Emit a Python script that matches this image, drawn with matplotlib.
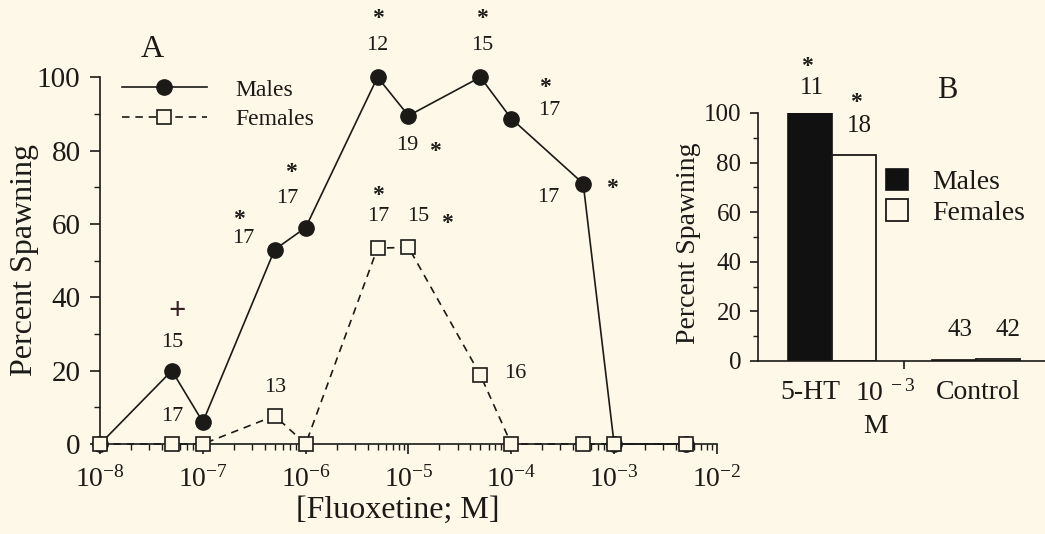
import matplotlib.pyplot as plt
import numpy as np
from matplotlib.ticker import LogLocator, NullFormatter, FixedLocator

plt.rcParams['font.family'] = 'Liberation Serif'
plt.rcParams['mathtext.fontset'] = 'custom'
plt.rcParams['mathtext.rm'] = 'Liberation Serif'
plt.rcParams['mathtext.it'] = 'Liberation Serif:italic'
plt.rcParams['mathtext.bf'] = 'Liberation Serif:bold'

ink = '#1c1a17'
bg = '#fdf8e8'

# panel A: spawning vs fluoxetine concentration
conc = [1e-8, 5e-8, 1e-7, 5e-7, 1e-6, 5e-6, 1e-5, 5e-5, 1e-4, 5e-4, 1e-3, 5e-3]
males = [0, 20, 6, 53, 59, 100, 89.5, 100, 88.7, 71, 0, 0]
females = [0, 0, 0, 7.7, 0, 53.4, 53.6, 18.8, 0, 0, 0, 0]
decades = [1e-8, 1e-7, 1e-6, 1e-5, 1e-4, 1e-3, 1e-2]
decade_labels = ['$10^{-8}$', '$10^{-7}$', '$10^{-6}$', '$10^{-5}$',
                 '$10^{-4}$', '$10^{-3}$', '$10^{-2}$']

# sample sizes / significance marks (x, y, text)
notes_a = [
    (5e-8, 27.8, '15'), (5e-8, 7.4, '17'), (5e-7, 15.5, '13'),
    (2.46e-7, 55.9, '17'), (6.6e-7, 67, '17'),
    (5e-6, 108.7, '12'), (5.2e-5, 108.7, '15'), (9.7e-6, 81.5, '19'),
    (2.33e-4, 91, '17'), (2.28e-4, 67.3, '17'),
    (5.1e-6, 61.9, '17'), (1.24e-5, 62.1, '15'), (1.09e-4, 19.3, '16'),
]
stars_a = [(2.25e-7, 62.4), (7.2e-7, 75.2), (5e-6, 117.2), (5.2e-5, 117.2),
           (1.8e-5, 80.9), (2.13e-4, 98.4), (9.6e-4, 70.8), (5.1e-6, 68.9),
           (2.37e-5, 61.3)]
plus_a = (5.6e-8, 36.0)

# panel B: 5-HT vs control
group_x = [1.18, 4.45]
b_males = [100, 0.5]
b_females = [83, 0.8]
notes_b = [(1.23, 110, '11'), (2.30, 94.8, '18'), (4.59, 12.5, '43'), (5.68, 12.5, '42')]
stars_b = [(1.11, 120.6), (2.23, 106)]

fig = plt.figure(figsize=(10.45, 5.34), dpi=100)
fig.patch.set_facecolor(bg)

# ---- panel A ----
ax = fig.add_axes([0.0957, 0.1685, 0.5904, 0.687])
ax.set_facecolor('none')
ax.set_xscale('log')
ax.plot(conc, males, '-', color=ink, lw=1.2, marker='o', ms=11,
        mfc=ink, mec=ink, clip_on=False, zorder=3, label='Males')
ax.plot(conc, females, '--', color=ink, lw=1.2, dashes=(4.5, 3.5), marker='s',
        ms=10.5, mfc=bg, mec=ink, mew=1.2, clip_on=False, zorder=4, label='Females')
ax.set_xlim(1e-8, 1e-2)
ax.set_ylim(0, 100)
ax.spines['top'].set_visible(False)
ax.spines['right'].set_visible(False)
for s in ('left', 'bottom'):
    ax.spines[s].set_color(ink)
    ax.spines[s].set_linewidth(1.2)
ax.set_xticks(decades)
ax.set_xticklabels(decade_labels, fontsize=20, color=ink)
ax.xaxis.set_minor_locator(LogLocator(base=10, subs=np.arange(2, 10), numticks=20))
ax.xaxis.set_minor_formatter(NullFormatter())
ax.set_yticks(range(0, 101, 20))
ax.set_yticklabels([str(v) for v in range(0, 101, 20)], fontsize=21, color=ink)
ax.yaxis.set_minor_locator(FixedLocator(range(10, 100, 20)))
ax.tick_params(which='major', direction='out', length=7, width=1.2, color=ink)
ax.tick_params(which='minor', direction='out', length=4, width=1.0, color=ink)
ax.tick_params(axis='y', pad=7)
ax.tick_params(axis='x', pad=9)

for x, y, t in notes_a:
    ax.text(x, y, t, fontsize=16, color=ink, ha='center', va='center', clip_on=False)
for x, y in stars_a:
    ax.annotate('*', (x, y), xytext=(0, -3), textcoords='offset points',
                fontsize=17, fontweight='bold', color=ink,
                ha='center', va='center', annotation_clip=False)
ax.text(plus_a[0], plus_a[1], '+', fontsize=22, fontweight='bold', color='#3a1f24',
        ha='center', va='center')
ax.text(3.2e-8, 107.6, 'A', fontsize=23, color=ink, ha='center', va='center', clip_on=False)

ax.legend(loc='upper left', bbox_to_anchor=(0.1167, 0.852), bbox_transform=fig.transFigure,
          frameon=False, fontsize=17, handlelength=3.6, handletextpad=1.2,
          borderpad=0, borderaxespad=0, labelspacing=0.35, labelcolor=ink)

fig.text(0.0239, 0.513, 'Percent Spawning', rotation=90, fontsize=23, color=ink,
         ha='center', va='center')
fig.text(0.381, 0.045, '[Fluoxetine; M]', fontsize=23, color=ink, ha='center', va='center')

# ---- panel B ----
bx = fig.add_axes([0.7254, 0.324, 0.2746, 0.4644])
bx.set_facecolor('none')
gx = np.array(group_x)
bx.bar(gx, b_males, width=1.0, color='#111111', edgecolor='#111111', lw=1.2, label='Males')
bx.bar(gx + 1.0, b_females, width=1.0, color=bg, edgecolor=ink, lw=1.3, label='Females')
bx.set_xlim(0, 6.52)
bx.set_ylim(0, 100)
bx.spines['top'].set_visible(False)
bx.spines['right'].set_visible(False)
for s in ('left', 'bottom'):
    bx.spines[s].set_color(ink)
    bx.spines[s].set_linewidth(1.2)
bx.set_xticks([3.32])
bx.set_xticklabels([''])
bx.set_yticks(range(0, 101, 20))
bx.set_yticklabels([str(v) for v in range(0, 101, 20)], fontsize=18, color=ink)
bx.yaxis.set_minor_locator(FixedLocator(range(10, 100, 20)))
bx.tick_params(which='major', direction='out', length=6, width=1.2, color=ink)
bx.tick_params(which='minor', direction='out', length=3.5, width=1.0, color=ink)
bx.tick_params(axis='y', pad=6)

for x, y, t in notes_b:
    bx.text(x, y, t, fontsize=18, color=ink, ha='center', va='center', clip_on=False)
for x, y in stars_b:
    bx.annotate('*', (x, y), xytext=(0, -3), textcoords='offset points',
                fontsize=17, fontweight='bold', color=ink,
                ha='center', va='center', annotation_clip=False)
bx.text(4.30, 109, 'B', fontsize=22, color=ink, ha='center', va='center', clip_on=False)
bx.text(1.18, -12.9, '5-HT', fontsize=20, color=ink, ha='center', va='center', clip_on=False)
bx.text(2.89, -12.9, r'$10^{\ -3}$', fontsize=20, color=ink, ha='center', va='center', clip_on=False)
bx.text(2.66, -26.6, 'M', fontsize=20, color=ink, ha='center', va='center', clip_on=False)
bx.text(5.0, -12.9, 'Control', fontsize=20, color=ink, ha='center', va='center', clip_on=False)

bx.legend(loc='upper left', bbox_to_anchor=(0.848, 0.6835), bbox_transform=fig.transFigure,
          frameon=False, fontsize=20, handlelength=0.8, handleheight=0.8,
          handletextpad=0.85, borderpad=0, borderaxespad=0, labelspacing=0.15,
          labelcolor=ink)

fig.text(0.6584, 0.545, 'Percent Spawning', rotation=90, fontsize=20, color=ink,
         ha='center', va='center')

plt.savefig('out.png', dpi=100, facecolor=bg)
